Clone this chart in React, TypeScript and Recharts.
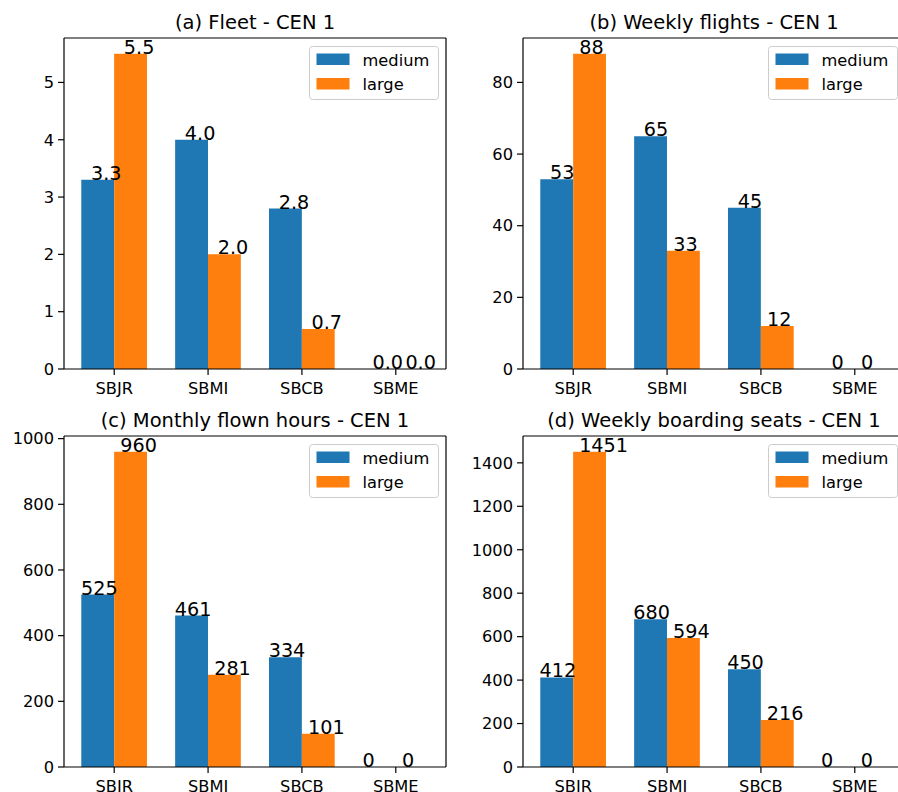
import React from 'react';
import { BarChart, Bar, XAxis, YAxis, Legend, LabelList } from 'recharts';

const categories = ['SBJR', 'SBMI', 'SBCB', 'SBME'];
const seriesNames = ['medium', 'large'];

const fleetMedium = [3.3, 4.0, 2.8, 0];
const fleetLarge = [5.5, 2.0, 0.7, 0];
const flightsMedium = [53, 65, 45, 0];
const flightsLarge = [88, 33, 12, 0];
const hoursMedium = [525, 461, 334, 0];
const hoursLarge = [960, 281, 101, 0];
const seatsMedium = [412, 680, 450, 0];
const seatsLarge = [1451, 594, 216, 0];

const fleetTicks = [0, 1, 2, 3, 4, 5];
const flightsTicks = [0, 20, 40, 60, 80];
const hoursTicks = [0, 200, 400, 600, 800, 1000];
const seatsTicks = [0, 200, 400, 600, 800, 1000, 1200, 1400];

const titles = [
  '(a) Fleet - CEN 1',
  '(b) Weekly flights - CEN 1',
  '(c) Monthly flown hours - CEN 1',
  '(d) Weekly boarding seats - CEN 1',
];

const BLUE = '#1f77b4';
const ORANGE = '#ff7f0e';
const FONT = '"DejaVu Sans", sans-serif';

const CHART_W = 460;
const CHART_H = 400;
const YAXIS_W = 60;
const XAXIS_H = 20;

type PanelProps = {
  left: number;
  top: number;
  plotLeft: number;
  plotRight: number;
  plotTop: number;
  plotBottom: number;
  medium: number[];
  large: number[];
  ticks: number[];
  fmt: (v: number) => string;
  dxMedium: number;
  dxLarge: number;
};

const makeLabel = (dx: number, fmt: (v: number) => string) => (props: any) => {
  const { x, y, value } = props;
  return (
    <text x={Number(x) + dx} y={Number(y)} fontSize={19.2} fontFamily={FONT} fill="#000" textAnchor="start">
      {fmt(Number(value))}
    </text>
  );
};

const LegendBox = () => (
  <svg width={131} height={55} style={{ display: 'block' }}>
    <rect x={0.5} y={0.5} width={129} height={53} rx={3} ry={3} fill="rgba(255,255,255,0.8)" stroke="#cccccc" strokeWidth={1} />
    <rect x={7.5} y={7.5} width={33} height={11.5} fill={BLUE} />
    <rect x={7.5} y={32} width={33} height={11.5} fill={ORANGE} />
    <text x={53.5} y={19.5} fontSize={16.25} fontFamily={FONT} fill="#000">{seriesNames[0]}</text>
    <text x={53.5} y={43.5} fontSize={16.25} fontFamily={FONT} fill="#000">{seriesNames[1]}</text>
  </svg>
);

const Panel = (p: PanelProps) => {
  const data = categories.map((c, i) => ({ cat: c, medium: p.medium[i], large: p.large[i] }));
  const maxV = Math.max(...p.medium, ...p.large);
  const relLeft = p.plotLeft - p.left;
  const relRight = p.plotRight - p.left;
  const relTop = p.plotTop - p.top;
  const relBottom = p.plotBottom - p.top;
  const margin = {
    left: relLeft - YAXIS_W,
    right: CHART_W - relRight - 1,
    top: relTop - 1,
    bottom: CHART_H - relBottom - XAXIS_H,
  };
  const plotW = relRight - relLeft;
  const band = plotW / 4.07;
  const pad = (plotW - band * 4) / 2;
  const barSize = band * 0.35;
  const legendLeft = relRight - 8 - 129;
  const legendTop = relTop + 8;
  const tickStyle = { fill: '#000', fontSize: 16.25, fontFamily: FONT };
  return (
    <div style={{ position: 'absolute', left: p.left, top: p.top, width: CHART_W, height: CHART_H }}>
      <BarChart width={CHART_W} height={CHART_H} data={data} margin={margin} barGap={0}>
        <XAxis
          dataKey="cat"
          xAxisId={0}
          height={XAXIS_H}
          padding={{ left: pad, right: pad }}
          interval={0}
          tick={tickStyle}
          tickSize={6}
          tickMargin={7}
          axisLine={{ stroke: '#000', strokeWidth: 1.2 }}
          tickLine={{ stroke: '#000', strokeWidth: 1.2 }}
        />
        <XAxis
          dataKey="cat"
          xAxisId="top"
          orientation="top"
          height={1}
          padding={{ left: pad, right: pad }}
          tick={false}
          tickLine={false}
          axisLine={{ stroke: '#000', strokeWidth: 1.2 }}
        />
        <YAxis
          yAxisId={0}
          width={YAXIS_W}
          type="number"
          domain={[0, maxV * 1.05]}
          ticks={p.ticks}
          interval={0}
          tick={tickStyle}
          tickSize={6}
          tickMargin={4}
          axisLine={{ stroke: '#000', strokeWidth: 1.2 }}
          tickLine={{ stroke: '#000', strokeWidth: 1.2 }}
        />
        <YAxis
          yAxisId="right"
          orientation="right"
          width={1}
          type="number"
          domain={[0, 1]}
          tick={false}
          tickLine={false}
          axisLine={{ stroke: '#000', strokeWidth: 1.2 }}
        />
        <Legend
          layout="horizontal"
          verticalAlign="middle"
          align="center"
          content={() => <LegendBox />}
          wrapperStyle={{ position: 'absolute', left: legendLeft, top: legendTop, width: 131, height: 55 }}
        />
        <Bar dataKey="medium" name={seriesNames[0]} fill={BLUE} barSize={barSize} minPointSize={0.01} isAnimationActive={false} xAxisId={0} yAxisId={0}>
          <LabelList dataKey="medium" content={makeLabel(p.dxMedium, p.fmt)} />
        </Bar>
        <Bar dataKey="large" name={seriesNames[1]} fill={ORANGE} barSize={barSize} minPointSize={0.01} isAnimationActive={false} xAxisId={0} yAxisId={0}>
          <LabelList dataKey="large" content={makeLabel(p.dxLarge, p.fmt)} />
        </Bar>
      </BarChart>
    </div>
  );
};

const fmt1 = (v: number) => v.toFixed(1);
const fmt0 = (v: number) => String(Math.round(v));

export default function App() {
  return (
    <div style={{ position: 'absolute', left: 0, top: 0, width: 898, height: 792, overflow: 'hidden', background: '#fff' }}>
      <Panel left={0} top={0} plotLeft={64} plotRight={446} plotTop={38} plotBottom={369}
        medium={fleetMedium} large={fleetLarge} ticks={fleetTicks} fmt={fmt1} dxMedium={9.7} dxLarge={9.7} />
      <Panel left={449} top={0} plotLeft={523} plotRight={905} plotTop={38} plotBottom={369}
        medium={flightsMedium} large={flightsLarge} ticks={flightsTicks} fmt={fmt0} dxMedium={9.7} dxLarge={6.2} />
      <Panel left={0} top={396} plotLeft={64} plotRight={446} plotTop={436} plotBottom={767}
        medium={hoursMedium} large={hoursLarge} ticks={hoursTicks} fmt={fmt0} dxMedium={-0.3} dxLarge={6.2} />
      <Panel left={449} top={396} plotLeft={523} plotRight={905} plotTop={436} plotBottom={767}
        medium={seatsMedium} large={seatsLarge} ticks={seatsTicks} fmt={fmt0} dxMedium={-0.8} dxLarge={6.0} />
      <svg width={898} height={792} style={{ position: 'absolute', left: 0, top: 0, pointerEvents: 'none' }}>
        <text x={255} y={28.5} textAnchor="middle" fontSize={19.5} fontFamily={FONT} fill="#000">{titles[0]}</text>
        <text x={714} y={28.5} textAnchor="middle" fontSize={19.5} fontFamily={FONT} fill="#000">{titles[1]}</text>
        <text x={255} y={426.5} textAnchor="middle" fontSize={19.5} fontFamily={FONT} fill="#000">{titles[2]}</text>
        <text x={714} y={426.5} textAnchor="middle" fontSize={19.5} fontFamily={FONT} fill="#000">{titles[3]}</text>
      </svg>
    </div>
  );
}
